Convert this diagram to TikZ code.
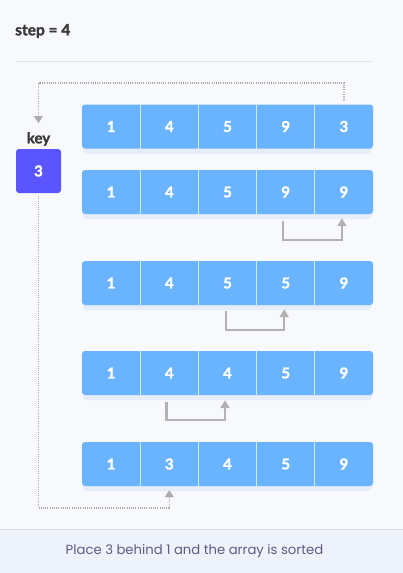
\documentclass[tikz,border=0pt]{standalone}
\usepackage{fontspec}
\setmainfont{Lato}[BoldFont={Lato Bold}]
\newfontfamily\heavyfont{Lato Bold}[FakeBold=1.6]
\newfontfamily\capfont{Poppins}
\usetikzlibrary{calc,arrows.meta}
\definecolor{bgc}{HTML}{F8F9FC}
\definecolor{bandc}{HTML}{EEF2FB}
\definecolor{bandline}{HTML}{D9DDE6}
\definecolor{rulec}{HTML}{E1E3E8}
\definecolor{cellc}{HTML}{6AB4FF}
\definecolor{sepc}{HTML}{D4E8FF}
\definecolor{keyc}{HTML}{5A55FF}
\definecolor{dotc}{HTML}{ABABAB}
\definecolor{movec}{HTML}{B2B2B2}
\definecolor{txtc}{HTML}{3A3A3A}
\definecolor{capc}{HTML}{5E5C84}
\definecolor{shadc}{HTML}{E6EDFA}
\tikzset{
  cellbox/.style={minimum width=58.2pt,minimum height=44pt,inner sep=0pt,text=white,font=\heavyfont\fontsize{15}{15}\selectfont},
  rowbg/.style={fill=cellc,rounded corners=3pt},
  rowshadow/.style={fill=shadc,rounded corners=4pt},
  sepline/.style={draw=sepc,line width=1pt},
  keybox/.style={fill=keyc,rounded corners=3pt,minimum width=45pt,minimum height=44pt,inner sep=0pt,text=white,font=\heavyfont\fontsize{15}{15}\selectfont},
  dotlink/.style={draw=dotc,line width=1.2pt,dash pattern=on 1pt off 1.2pt},
  dothead/.style={-{Triangle[length=7pt,width=9pt,fill=dotc,color=dotc]}},
  movelink/.style={draw=movec,line width=2.4pt,-{Triangle[length=8pt,width=9pt]}},
}
\begin{document}
\begin{tikzpicture}[x=1pt,y=-1pt]
\fill[bgc] (0,0) rectangle (403,573);
\useasboundingbox (0,0) rectangle (403,573);
\fill[bandc] (0,529) rectangle (403,573);
\draw[bandline,line width=0.8pt] (0,529) -- (403,529);
\node[anchor=west,text=txtc,font=\heavyfont\fontsize{15.5}{15.5}\selectfont,inner sep=0pt] (title) at (15,31) {step = 4};
\draw[rulec,line width=0.8pt] (16,61) -- (373,61);
% rows
\foreach \r/\yc/\a/\b/\c/\d/\e in {1/126.5/1/4/5/9/3, 2/192/1/4/5/9/9, 3/283/1/4/5/5/9, 4/373/1/4/4/5/9, 5/464/1/3/4/5/9}{
  \fill[rowshadow] (83,\yc-18) rectangle (372,\yc+27);
  \fill[rowbg] (82,\yc-22) rectangle (373,\yc+22);
  \foreach \i/\v in {1/\a,2/\b,3/\c,4/\d,5/\e}{
    \node[cellbox] (c\r\i) at ({82+29.1+58.2*(\i-1)},\yc) {\v};
  }
  \foreach \i in {1,2,3,4}{
    \draw[sepline] ({82+58.2*\i},\yc-22) -- ({82+58.2*\i},\yc+22);
  }
}
% key
\node[text=txtc,font=\heavyfont\fontsize{15}{15}\selectfont] (keylabel) at (38.5,139) {key};
\node[keybox] (key) at (38.5,171) {3};
% dotted links
\coordinate (topbend) at (38.5,83);
\draw[dotlink] ($(c15.north)+(0,-3)$) |- (topbend);
\draw[dotlink,dothead] (topbend) -- (38.5,123);
\coordinate (botbend) at (38.5,508);
\draw[dotlink] ($(key.south)+(0,3)$) -- (botbend);
\draw[dotlink,dothead] (botbend) -| ($(c52.south)+(0,4)$);
% move arrows
\draw[movelink] ($(c24.south)+(-2.5,7)$) -- ++(0,19) -| ($(c25.south)+(-2,4)$);
\draw[movelink] ($(c33.south)+(-1.5,6)$) -- ++(0,19) -| ($(c34.south)+(-1.5,4)$);
\draw[movelink] ($(c42.south)+(-3,7)$) -- ++(0,18) -| ($(c43.south)+(-2.5,5)$);
% caption
\node[text=capc,font=\capfont\fontsize{13.2}{13.2}\selectfont] (caption) at (194.5,551) {Place 3 behind 1 and the array is sorted};
\end{tikzpicture}
\end{document}
